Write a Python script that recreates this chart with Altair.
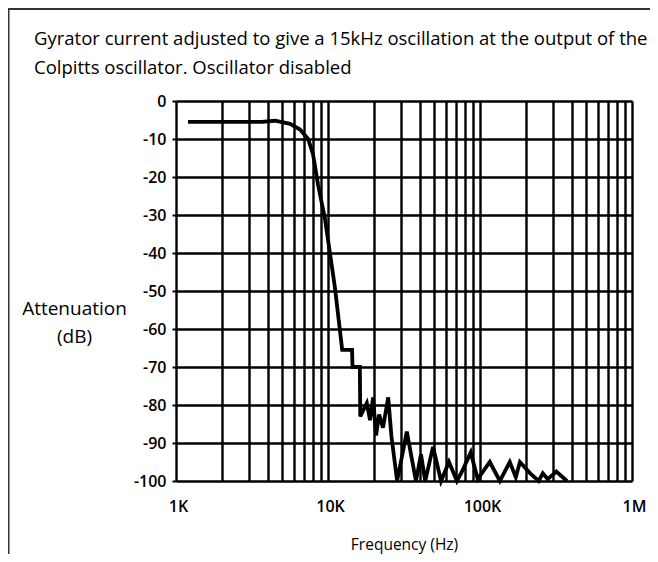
import altair as alt
import pandas as pd

# ---- data ----
freq_hz = [1200, 2270, 3680, 4480, 5630, 6550, 7400, 7970, 8600, 9550,
           11100, 12400, 14400, 14500, 16200, 16300, 18000, 18900, 19800, 20700,
           21700, 23000, 24900, 26100, 28500, 33000, 37900, 40900, 43600, 49100,
           55400, 62500, 70500, 77200, 86900, 96600, 116000, 135000, 157000, 172000,
           183000, 214000, 243000, 259000, 279000, 318000, 373000]
atten_db = [-5.5, -5.5, -5.5, -5.2, -6.0, -7.5, -10, -14, -22, -31,
            -49, -65.5, -65.5, -70, -70, -83, -79.5, -84, -78, -88,
            -82.5, -86, -78, -88, -100, -87, -100, -93, -100, -91,
            -100, -95, -100, -97, -92.5, -99.5, -95, -100, -95, -99,
            -95, -98, -100, -98, -99.5, -97.5, -100]

x_tick_values = [m * 10 ** e for e in (3, 4, 5) for m in range(1, 10)] + [1000000]
x_decades = [1000, 10000, 100000, 1000000]
x_decade_labels = ["1K", "10K", "100K", "1M"]
y_tick_values = list(range(-100, 1, 10))

title_lines = ["Gyrator current adjusted to give a 15kHz oscillation at the output of the",
               "Colpitts oscillator.  Oscillator disabled"]
y_title_lines = ["Attenuation", "(dB)"]
x_title = "Frequency (Hz)"

FONT = "Open Sans"

df = pd.DataFrame({"f": freq_hz, "db": atten_db, "i": list(range(len(freq_hz)))})

label_expr = "".join(
    f"abs(datum.value - {v}) < 1 ? '{t}' : " for v, t in zip(x_decades, x_decade_labels)
) + "''"
y_label_expr = "datum.value == 0 ? '0' : '-' + abs(datum.value)"

line = alt.Chart(df).mark_line(color="black", strokeWidth=3.8, strokeJoin="miter").encode(
    x=alt.X("f:Q",
            scale=alt.Scale(type="log", domain=[1000, 1000000], nice=False),
            axis=alt.Axis(values=x_tick_values, labelExpr=label_expr,
                          grid=True, gridColor="black", gridWidth=2.4, gridOpacity=1,
                          ticks=False, tickSize=0, domain=False,
                          labelFont=FONT, labelFontSize=16, labelFontWeight=600,
                          labelColor="black", labelPadding=17, labelFlush=False,
                          labelOverlap=False, labelOffset=2,
                          title=x_title, titleFont=FONT, titleFontSize=15.5,
                          titleFontWeight=500, titleColor="black",
                          titleBaseline="alphabetic", titleY=68)),
    y=alt.Y("db:Q",
            scale=alt.Scale(domain=[-100, 0], nice=False),
            axis=alt.Axis(values=y_tick_values, labelExpr=y_label_expr,
                          grid=True, gridColor="black",
                          gridWidth=2.4, gridOpacity=1,
                          ticks=True, tickSize=4, tickWidth=2, tickColor="black",
                          domain=False,
                          labelFont=FONT, labelFontSize=16, labelFontWeight=600,
                          labelColor="black", labelPadding=6, labelFlush=False,
                          title=y_title_lines, titleFont=FONT, titleFontSize=19,
                          titleFontWeight=500, titleColor="black",
                          titleAngle=0, titleAlign="center", titleBaseline="top",
                          titleX=-102, titleY=198, titleLineHeight=28)),
    order="i:Q",
)

frame_data = alt.Data(values=[{"k": 0}])
frame_top = alt.Chart(frame_data).mark_rule(color="#333", strokeWidth=2).encode(
    x=alt.value(-168), x2=alt.value(482), y=alt.value(-92))
frame_left = alt.Chart(frame_data).mark_rule(color="#333", strokeWidth=2).encode(
    x=alt.value(-167.5), y=alt.value(-92), y2=alt.value(461))

chart = alt.layer(line, frame_top, frame_left).properties(
    width=456, height=380,
    autosize=alt.AutoSizeParams(type="none"),
    padding={"left": 168, "top": 93, "right": 18, "bottom": 73},
    title=alt.Title(text=title_lines, anchor="start", frame="group", dx=-142,
                    font=FONT, fontSize=18.5, fontWeight=500, color="black",
                    lineHeight=29, offset=0, dy=69),
).configure_view(stroke="black", strokeWidth=2.5).configure(background="white")

chart.save("out.html", embed_options={"renderer": "svg", "actions": False})
